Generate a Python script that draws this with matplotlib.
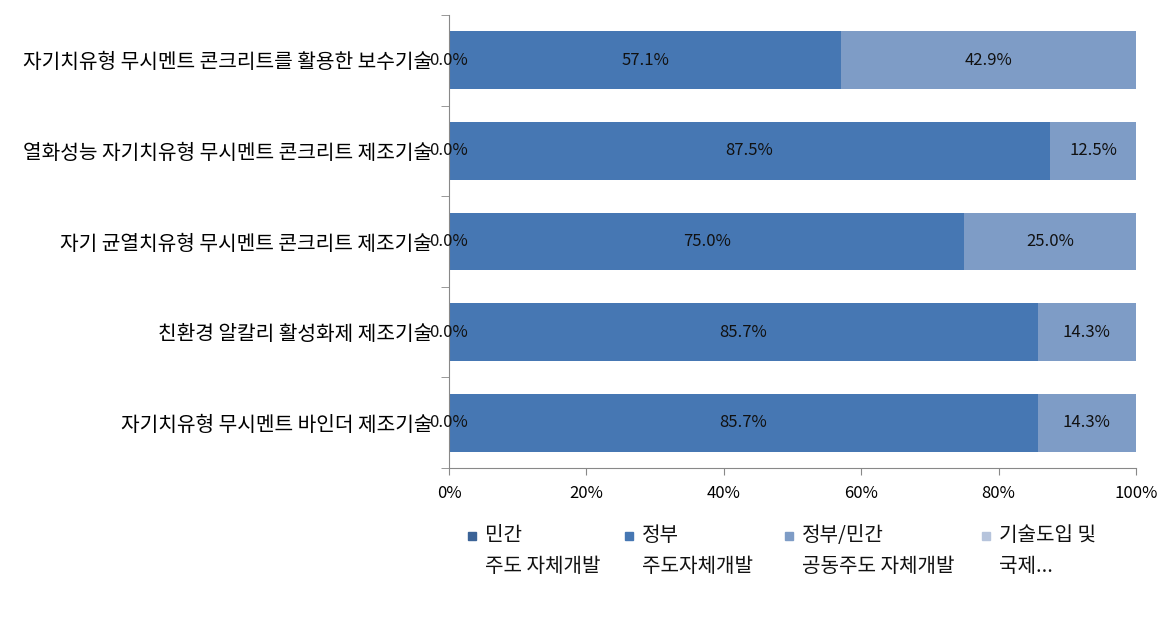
import matplotlib
matplotlib.use("Agg")
import matplotlib.pyplot as plt
from matplotlib.patches import Rectangle
import numpy as np

plt.rcParams['font.family'] = ['Noto Sans CJK KR', 'DejaVu Sans']

categories = [
    '자기치유형 무시멘트 콘크리트를 활용한 보수기술',
    '열화성능 자기치유형 무시멘트 콘크리트 제조기술',
    '자기 균열치유형 무시멘트 콘크리트 제조기술',
    '친환경 알칼리 활성화제 제조기술',
    '자기치유형 무시멘트 바인더 제조기술',
]
series_names = ['민간\n주도 자체개발', '정부\n주도자체개발', '정부/민간\n공동주도 자체개발', '기술도입 및\n국제...']
private = [0.0, 0.0, 0.0, 0.0, 0.0]
government = [57.1, 87.5, 75.0, 85.7, 85.7]
joint = [42.9, 12.5, 25.0, 14.3, 14.3]
foreign = [0.0, 0.0, 0.0, 0.0, 0.0]
colors = ['#3B6397', '#4677B3', '#7E9CC6', '#B6C4DC']

fig = plt.figure(figsize=(11.72, 6.24), dpi=100)
ax = fig.add_axes([449/1172, 1 - 468/624, (1136-449)/1172, (468-15)/624])

y = np.arange(len(categories))
left = np.zeros(len(categories))
data = [private, government, joint, foreign]
for i, vals in enumerate(data):
    bars = ax.barh(y, vals, left=left, height=0.64, color=colors[i])
    if i < 3:
        for b, v in zip(bars, vals):
            ax.text(b.get_x() + b.get_width()/2, b.get_y() + b.get_height()/2,
                    f'{v:.1f}%', ha='center', va='center', fontsize=12, color='#111111')
    left += np.array(vals)

ax.set_xlim(0, 100)
ax.set_ylim(len(categories) - 0.5, -0.5)
ax.set_xticks(np.arange(0, 101, 20))
ax.set_xticklabels([f'{v}%' for v in range(0, 101, 20)], fontsize=12)
ax.set_yticks(y)
ax.set_yticklabels(categories, fontsize=14.6)
ax.tick_params(axis='y', length=0, pad=12)
ax.set_yticks(np.arange(-0.5, len(categories), 1), minor=True)
ax.tick_params(axis='y', which='minor', length=6, color='#888888')
ax.tick_params(axis='x', length=5, color='#888888', pad=7)
for s in ['top', 'right']:
    ax.spines[s].set_visible(False)
ax.spines['left'].set_color('#888888')
ax.spines['bottom'].set_color('#888888')

# legend drawn by hand: small square aligned with the first text line
legend_x = [468, 625, 785, 982]
for i, name in enumerate(series_names):
    x0 = legend_x[i]
    fig.add_artist(Rectangle((x0/1172, 1 - 540/624), 8/1172, 8/624,
                             transform=fig.transFigure, color=colors[i]))
    fig.text((x0 + 17)/1172, 1 - 525/624, name, fontsize=14.5, va='top',
             ha='left', linespacing=1.6, color='#111111')

fig.savefig('out.png', dpi=100)
